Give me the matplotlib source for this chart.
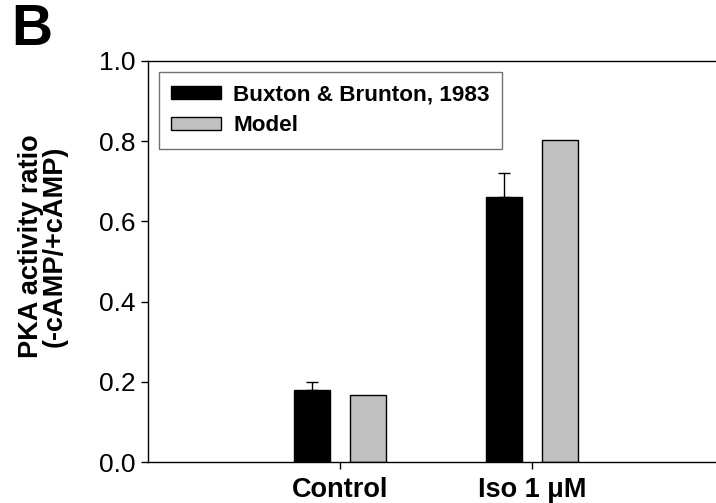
import matplotlib
matplotlib.use("Agg")
import matplotlib.pyplot as plt
import numpy as np

plt.rcParams['font.family'] = ['Liberation Sans', 'DejaVu Sans']

categories = ["Control", "Iso 1 \u03bcM"]
experiment = [0.18, 0.66]
experiment_err = [0.02, 0.06]
model = [0.168, 0.803]
series_names = ["Buxton & Brunton, 1983", "Model"]
yticks = [0.0, 0.2, 0.4, 0.6, 0.8, 1.0]

fig = plt.figure(figsize=(7.16, 5.03), dpi=100)
ax = fig.add_axes([148 / 716, 41 / 503, 576 / 716, 401 / 503])

x = np.arange(len(categories))
width = 0.1875
offset = 0.148

ax.bar(x - offset, experiment, width, color='black', edgecolor='black',
       linewidth=1, label=series_names[0], zorder=2)
ax.errorbar(x - offset, experiment, yerr=[np.zeros(len(experiment)), experiment_err],
            fmt='none', ecolor='black', elinewidth=1, capsize=4.3, capthick=1, zorder=1)
ax.bar(x + offset, model, width, color='#c0c0c0', edgecolor='black',
       linewidth=1, label=series_names[1], zorder=2)

ax.set_xlim(-1, 2)
ax.set_ylim(0, 1.0)
ax.set_xticks(x)
ax.set_xticklabels(categories, fontsize=19.5, fontweight='bold')
ax.set_yticks(yticks)
ax.set_yticklabels([f"{v:.1f}" for v in yticks], fontsize=19)
ax.tick_params(axis='both', direction='out', length=5, width=1, color='black')
ax.tick_params(axis='x', pad=6)
ax.tick_params(axis='y', pad=4)
for s in ax.spines.values():
    s.set_linewidth(1)
    s.set_color('black')

ax.set_ylabel("PKA activity ratio\n(-cAMP/+cAMP)", fontsize=19.5, fontweight='bold',
              linespacing=0.85)
ax.yaxis.set_label_coords(-0.14, 0.539)

leg = ax.legend(loc='upper left', bbox_to_anchor=(0.019, 0.9726), borderaxespad=0,
                prop={'size': 16.2, 'weight': 'bold'}, frameon=True, fancybox=False,
                handlelength=2.2, handleheight=0.55, handletextpad=0.55,
                labelspacing=0.45, borderpad=0.55)
leg.get_frame().set_edgecolor('0.3')
leg.get_frame().set_linewidth(1)

fig.text(11 / 716, 1 - 45 / 503, "B", fontsize=41, fontweight='bold',
         ha='left', va='baseline')

fig.savefig("out.png", dpi=100)
